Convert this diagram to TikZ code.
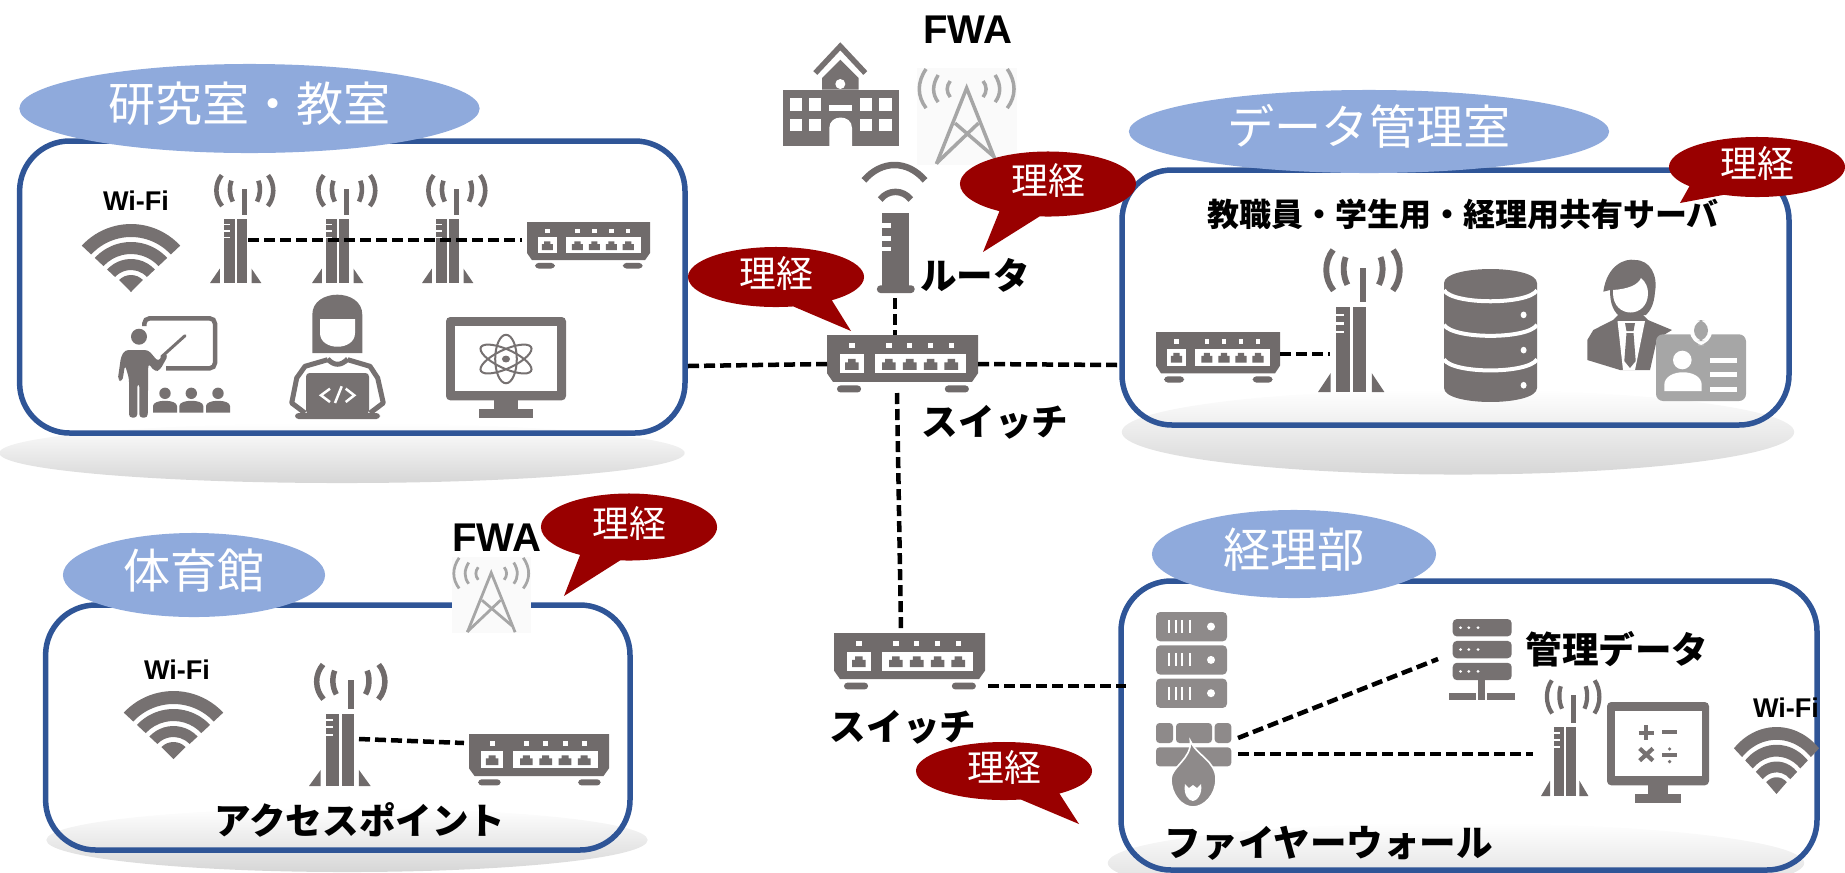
\documentclass[tikz,border=0pt]{standalone}
\usepackage{fontspec}
\setmainfont{Liberation Sans}
\newfontfamily\cjkfont{Noto Sans CJK JP}
\usetikzlibrary{shapes.geometric,shapes.callouts}
\definecolor{iconcol}{HTML}{767171}
\definecolor{rackcol}{HTML}{8E8A8A}
\definecolor{palecol}{HTML}{A6A6A6}
\definecolor{ovalcol}{HTML}{8FAADC}
\definecolor{boxcol}{HTML}{2F5597}
\definecolor{calloutcol}{HTML}{990000}
\tikzset{
	roombox/.style={draw=boxcol,line width=0.055cm,rounded corners=0.5cm},
	floorshade/.style={ellipse,inner sep=0,top color=white,bottom color=black!16},
	tagoval/.style={ellipse,fill=ovalcol,inner sep=0,text=white,text height=0.4cm,text depth=0.14cm,font=\cjkfont\fontsize{13.4}{15}\selectfont},
	keeper/.style={ellipse callout,fill=calloutcol,inner sep=0,callout pointer arc=28,minimum width=1.76cm,minimum height=0.62cm,text=white,text height=0.3cm,text depth=0.1cm,font=\cjkfont\fontsize{10.5}{12}\selectfont},
	netlink/.style={line width=0.045cm,dash pattern=on 0.11cm off 0.05cm},
	boldlabel/.style={font=\cjkfont\bfseries\fontsize{10.4}{12}\selectfont},
	latinbig/.style={font=\bfseries\fontsize{11.4}{13}\selectfont},
	latinsmall/.style={font=\bfseries\fontsize{7.7}{9}\selectfont},
}
\def\portsocket#1{\begin{scope}[shift={(#1,0)}]
	\fill (-4.5,60) -- (-4.5,47) -- (-2.5,47) -- (-2.5,41) -- (2.5,41) -- (2.5,47) -- (4.5,47) -- (4.5,60) -- cycle;
	\fill[white] (-1.8,14) rectangle (1.8,23);
\end{scope}}
\def\switchicon(#1,#2)(#3,#4){\begin{scope}[shift={(#1,#2)},xscale=#3/100,yscale=#4/100,color=iconcol!95!black]
	\fill (0,0) -- (100,0) -- (100,66) -- (96,81) -- (4,81) -- (0,66) -- cycle;
	\fill[rounded corners=1pt] (6.6,87) rectangle (22.6,99);
	\fill[rounded corners=1pt] (78,87) rectangle (94,99);
	\fill[white] (8.8,32.5) rectangle (24.3,66);
	\fill[white] (31.6,32.5) rectangle (92.3,66);
	\portsocket{16.5}
	\foreach \cx in {41,54.8,68.6,82.3} {\portsocket{\cx}}
\end{scope}}
\def\antennaicon(#1,#2)(#3,#4){\begin{scope}[shift={(#1,#2)},xscale=#3/100,yscale=#4/100,color=iconcol!95!black]
	\fill (49.8,14.8) rectangle (57.6,38);
	\fill (22,41.7) rectangle (38.5,100);
	\fill (42,41.7) rectangle (57.6,100);
	\fill (0,100) -- (15,100) -- (15,87) -- cycle;
	\fill (64,87) -- (64,100) -- (79,100) -- cycle;
	\fill[white] (22,46) rectangle (31,47.5);
	\fill[white] (22,52) rectangle (31,53.5);
	\fill[white] (22,58) rectangle (31,59.5);
	\draw[line width={#3*0.0007cm}] (18,2) .. controls (7,10) and (7,22) .. (18.6,30);
	\draw[line width={#3*0.0007cm}] (33,7) .. controls (29.5,12) and (29.5,20) .. (35,26);
	\draw[line width={#3*0.0007cm}] (89.4,2) .. controls (100,10) and (100,22) .. (89,30);
	\draw[line width={#3*0.0007cm}] (74.4,7) .. controls (78,12) and (78,20) .. (72.4,26);
\end{scope}}
\def\routericon(#1,#2)(#3,#4){\begin{scope}[shift={(#1,#2)},xscale=#3/100,yscale=#4/100,color=iconcol!95!black]
	\draw[line width=0.065cm] (3,12) .. controls (30,-4) and (70,-4) .. (97,12);
	\draw[line width=0.065cm] (28,27) .. controls (40,19) and (63,19) .. (75,27);
	\fill (31,37.7) rectangle (73,95);
	\fill[rounded corners=1pt] (23,100) -- (23,94) -- (81,94) -- (81,100) -- cycle;
	\fill[white] (31,45) rectangle (44,49.5);
	\fill[white] (31,55.5) rectangle (44,59);
	\fill[white] (31,64) rectangle (44,67.5);
\end{scope}}
\def\wifiicon(#1,#2)(#3,#4){\begin{scope}[shift={(#1,#2)},xscale=#3/97,yscale=#4/68,color=iconcol]
	\begin{scope}[shift={(48.5,68)}]
		\fill (223:68) arc (223:317:68) -- (317:55) arc (317:223:55) -- cycle;
		\fill (223:50) arc (223:317:50) -- (317:38) arc (317:223:38) -- cycle;
		\fill (223:33) arc (223:317:33) -- (317:22) arc (317:223:22) -- cycle;
		\fill (0,0) -- (225:17) arc (225:315:17) -- cycle;
	\end{scope}
\end{scope}}
\def\monitoricon(#1,#2)(#3,#4)#5{\begin{scope}[shift={(#1,#2)},xscale=#3/100,yscale=#4/100,color=iconcol]
	\fill[rounded corners=1.2pt] (0,0) rectangle (100,82.5);
	\fill[white] (7.5,8.6) rectangle (92.8,73.6);
	\fill (40,82) rectangle (60,91);
	\fill (27.5,91) rectangle (72.5,100);
	#5
\end{scope}}
\def\atomglyph{
	\foreach \ang in {90,30,-30} {\draw[line width=0.02cm,rotate around={\ang:(50,41.6)}] (50,41.6) ellipse (24 and 9);}
	\fill (50,41.6) circle (3.4);
}
\def\sumsglyph{
	\draw[line width=0.042cm] (31,30.4) -- (46,30.4) (38.6,23) -- (38.6,38);
	\draw[line width=0.042cm] (54,30) -- (69,30);
	\draw[line width=0.042cm] (32,46) -- (45,58) (45,46) -- (32,58);
	\draw[line width=0.042cm] (54,52.8) -- (69,52.8);
	\fill (61.4,46.5) circle (1.8) (61.4,59) circle (1.8);
}
\def\teachericon(#1,#2){\begin{scope}[shift={(#1,#2)},color=iconcol]
	\draw[line width=0.045cm,rounded corners=1.5pt] (27.3,10) -- (27.3,2.3) -- (98,2.3) -- (98,52.3) -- (49,52.3);
	\fill (22,20.7) circle (8);
	\fill[rounded corners=1pt] (8,34) -- (31.3,34) -- (41.3,45.7) -- (46.3,37.3) -- (51.3,39) -- (43,54) -- (38,55.7) -- (31.3,47.3) -- (30.7,101.7) -- (22.3,101.7) -- (22.3,67.3) -- (20.3,67.3) -- (20.3,101.7) -- (12,101.7) -- (12,62.3) -- (8,49) -- (5.3,65.7) -- (0.7,64) -- (4,40.7) -- cycle;
	\draw[line width=0.03cm,line cap=round] (44.7,40.7) -- (68,19.7);
	\foreach \cx in {48,74.3,101} {
		\fill (\cx,77.3) circle (5.7);
		\begin{scope}[shift={(\cx,0)}]
			\fill (-12,96.7) -- (-12,90) .. controls (-12,83) and (12,83) .. (12,90) -- (12,96.7) -- cycle;
		\end{scope}
	}
\end{scope}}
\def\codericon(#1,#2){\begin{scope}[shift={(#1,#2)},color=iconcol]
	\fill (23.3,60) -- (23.3,21.7) .. controls (23.3,-5) and (73.3,-5) .. (73.3,21.7) -- (73.3,60) -- cycle;
	\fill[white] (31,26) -- (66,26) -- (66,40) .. controls (66,58.3) and (31,58.3) .. (31,40) -- cycle;
	\draw[line width=0.05cm,line join=round] (38.7,66.7) -- (16,73.3) -- (7.7,85) -- (2.7,110) -- (16,120);
	\draw[line width=0.05cm,line join=round] (58.7,66.7) -- (81,73.3) -- (88.7,85) -- (94.3,110) -- (81,120);
	\draw[line width=0.05cm] (38.7,66) .. controls (45,73) and (52,73) .. (58.7,66);
	\fill[rounded corners=1pt] (17,80) rectangle (80,121);
	\fill[rounded corners=1pt] (6,120) rectangle (91,126);
	\draw[white,line width=0.025cm] (41,95.7) -- (32,102.3) -- (41,109);
	\draw[white,line width=0.025cm] (52.7,93.3) -- (46,110);
	\draw[white,line width=0.025cm] (56.7,95.7) -- (65.3,102.3) -- (56.7,109);
\end{scope}}
\def\dbicon(#1,#2)(#3,#4){\begin{scope}[shift={(#1,#2)},xscale=#3/100,yscale=#4/100,color=iconcol]
	\fill (0,10.6) .. controls (0,-3.5) and (100,-3.5) .. (100,10.6) -- (100,89.4) .. controls (100,103.5) and (0,103.5) .. (0,89.4) -- cycle;
	\draw[white,line width=0.04cm] (0,16) .. controls (10,27) and (90,27) .. (100,16);
	\draw[white,line width=0.04cm] (0,42) .. controls (10,53) and (90,53) .. (100,42);
	\draw[white,line width=0.04cm] (0,68) .. controls (10,79) and (90,79) .. (100,68);
	\foreach \cy in {34.5,61,87.4} {\fill[white] (85.6,\cy) ellipse (3.2 and 2.5);}
\end{scope}}
\def\staffcardicon(#1,#2){\begin{scope}[shift={(#1,#2)},color=iconcol]
	\fill (23.3,36.7) .. controls (27,10) and (45,3) .. (55,5) .. controls (70,5) and (78,20) .. (75,37) .. controls (74,50) and (70,56) .. (66,60) -- (38,60) .. controls (32,54) and (30,46) .. (30,35) -- cycle;
	\fill[white] (33,35) .. controls (48,34) and (58,30) .. (61,23) .. controls (66,27) and (68,33) .. (68,38) .. controls (68,64) and (33,64) .. (33,38) -- cycle;
	\fill (7.3,105) -- (7.3,85) -- (13.3,75) -- (33,65) -- (38,60) -- (63,60) -- (68,65) -- (92,75) -- (77,84) -- (70,115) -- (40,115) -- cycle;
	\fill[white] (37.5,66) -- (65,66) -- (55,115) -- (43,115) -- cycle;
	\fill (45,68) -- (55,68) -- (53.5,76) -- (46.5,76) -- cycle;
	\fill (46.5,78) -- (53.5,78) -- (55.7,106) -- (50,113) -- (44.3,106) -- cycle;
	\fill[palecol,rounded corners=2pt] (76,79.3) rectangle (166,146);
	\fill[white,rounded corners=4pt] (110,62) rectangle (132,90);
	\fill[palecol,rounded corners=3pt] (114,65) rectangle (128,86);
	\fill[white] (102.3,105) circle (9.3);
	\fill[white] (84.3,136) -- (84.3,130) .. controls (84.3,113) and (121.7,113) .. (121.7,130) -- (121.7,136) -- cycle;
	\fill[white] (130,103) rectangle (157.3,108);
	\fill[white] (130,117) rectangle (157.3,122);
	\fill[white] (130,131.5) rectangle (157.3,136.5);
\end{scope}}
\def\rackicon(#1,#2){\begin{scope}[shift={(#1,#2)},color=rackcol]
	\foreach \ty in {0,33.3,66.6} {
		\fill[rounded corners=1.2pt] (0,\ty) rectangle (71,\ty+29.3);
		\foreach \cx in {13,19.5,26,33.5} {\fill[white] (\cx-1,\ty+8) rectangle (\cx+1,\ty+21);}
		\fill[white] (55,\ty+14.6) circle (4);
	}
\end{scope}}
\def\firewallicon(#1,#2){\begin{scope}[shift={(#1,#2)},color=rackcol]
	\fill[rounded corners=1pt] (0,0) rectangle (17,20);
	\fill[rounded corners=1pt] (20,0) rectangle (56,20);
	\fill[rounded corners=1pt] (58.7,0) rectangle (75.3,20);
	\fill[rounded corners=1pt] (0,24.3) rectangle (75.3,43.3);
	\filldraw[draw=white,line width=0.016cm] (34.3,17.7) .. controls (40,32) and (60,38) .. (60,56) .. controls (60,72) and (48,84) .. (37,84) .. controls (26,84) and (15,72) .. (15,56) .. controls (15,44) and (36,36) .. cycle;
	\fill[white] (29,61) -- (33,65) -- (37,62) -- (41,65) -- (45,61) .. controls (47,72) and (40,78) .. (37,78) .. controls (33,78) and (27,72) .. cycle;
\end{scope}}
\def\smallservericon(#1,#2)(#3,#4){\begin{scope}[shift={(#1,#2)},xscale=#3/100,yscale=#4/100,color=iconcol]
	\foreach \ty in {0,27,54} {
		\fill[rounded corners=1.2pt] (5.6,\ty) rectangle (95,\ty+21.5);
		\foreach \cx in {17.5,30,44} {\fill[white] (\cx,\ty+10.7) ellipse (2.4 and 1.8);}
	}
	\fill (44,75) rectangle (55,100);
	\fill (0,91.7) rectangle (41,100);
	\fill (58,91.7) rectangle (100,100);
\end{scope}}
\def\schoolicon(#1,#2){\begin{scope}[shift={(#1,#2)},color=iconcol]
	\draw[line width=0.055cm] (32.3,30) -- (57.3,3.3) -- (82.3,30);
	\fill (39,46.7) -- (39,35) -- (57.3,16.7) -- (75.7,35) -- (75.7,46.7) -- cycle;
	\fill (0,46.7) rectangle (115.7,103.3);
	\fill[white] (57.3,41) circle (5);
	\foreach \cx in {6.7,25.7,76.7,96} {
		\fill[white] (\cx,55) rectangle (\cx+12.5,68.3);
		\fill[white] (\cx,75.7) rectangle (\cx+12.5,88.3);
	}
	\fill[white] (46.3,61.7) rectangle (69,68.3);
	\fill[white] (46.3,103.3) -- (46.3,85) .. controls (46.3,71) and (69,71) .. (69,85) -- (69,103.3) -- cycle;
\end{scope}}
\def\towericon(#1,#2)(#3,#4){\begin{scope}[shift={(#1,#2)},xscale=#3/99.3,yscale=#4/96.7,color=palecol]
	\fill[black!2] (0,0) rectangle (99.3,96.7);
	\draw[line width={#3*0.00035cm}] (19.3,95.7) -- (49.3,20) -- (79.3,95.7);
	\draw[line width={#3*0.00035cm}] (37.7,55) -- (76,88) (61,55) -- (19.3,95);
	\draw[line width={#3*0.00035cm}] (33,13) .. controls (29,18) and (29,24) .. (33,29);
	\draw[line width={#3*0.00035cm}] (21,7) .. controls (15,17) and (15,26) .. (21,34);
	\draw[line width={#3*0.00035cm}] (9,1) .. controls (0,14) and (0,28) .. (9,40);
	\draw[line width={#3*0.00035cm}] (65.6,13) .. controls (69.6,18) and (69.6,24) .. (65.6,29);
	\draw[line width={#3*0.00035cm}] (77.6,7) .. controls (83.6,17) and (83.6,26) .. (77.6,34);
	\draw[line width={#3*0.00035cm}] (89.6,1) .. controls (98.6,14) and (98.6,28) .. (89.6,40);
\end{scope}}
\begin{document}
\begin{tikzpicture}[x=0.01cm,y=-0.01cm]
	\useasboundingbox (0,0) rectangle (1845,872);
	\clip (0,0) rectangle (1845,872);
	%%%%% FLOORS %%%%%
	\node[floorshade,minimum width=6.85cm,minimum height=0.6cm] (floorlab) at (342,453) {};
	\node[floorshade,minimum width=6.72cm,minimum height=0.85cm] (floordata) at (1458,432) {};
	\node[floorshade,minimum width=6.01cm,minimum height=0.64cm] (floorgym) at (347,840) {};
	\node[floorshade,minimum width=6.96cm,minimum height=0.8cm] (flooraccount) at (1456,863) {};
	%%%%% ROOMS %%%%%
	\draw[roombox] (19.6,141) rectangle (685,433);
	\draw[roombox] (1122,170) rectangle (1789,425);
	\draw[roombox] (45.6,605) rectangle (630,850);
	\draw[roombox] (1121,581) rectangle (1817,870);
	\node[tagoval,minimum width=4.6cm,minimum height=0.89cm] (taglab) at (249.5,108.5) {研究室・教室};
	\node[tagoval,minimum width=4.8cm,minimum height=0.83cm] (tagdata) at (1369,131.5) {データ管理室};
	\node[tagoval,minimum width=2.62cm,minimum height=0.84cm] (taggym) at (194,575) {体育館};
	\node[tagoval,minimum width=2.84cm,minimum height=0.88cm] (tagaccount) at (1294,554) {経理部};
	%%%%% CENTRE %%%%%
	\schoolicon(783,43)
	\towericon(917,68)(100,97)
	\routericon(862,165)(65,128)
	\switchicon(827,335)(151,58)
	\switchicon(834,633)(151,57)
	%%%%% LAB %%%%%
	\wifiicon(83,224)(96,68)
	\antennaicon(210,173)(65,110)
	\antennaicon(312,173)(65,110)
	\antennaicon(422,173)(65,110)
	\switchicon(527,222)(123,47)
	\teachericon(117,316)
	\codericon(289,293)
	\monitoricon(446,317)(120,101){\atomglyph}
	%%%%% DATA ROOM %%%%%
	\switchicon(1156,332)(124,51)
	\antennaicon(1318,247)(84,145)
	\dbicon(1444,269)(93,133)
	\staffcardicon(1580,255)
	%%%%% GYM %%%%%
	\towericon(452,557)(79,76)
	\wifiicon(125,691)(97,68)
	\antennaicon(309,662)(78,124)
	\switchicon(469,734)(140,52)
	%%%%% ACCOUNTING %%%%%
	\rackicon(1156,612)
	\firewallicon(1156,723)
	\smallservericon(1449,619)(66,81)
	\antennaicon(1541,678)(60,118)
	\monitoricon(1607,702)(102,101){\sumsglyph}
	\wifiicon(1735,727)(83,67)
	%%%%% LINKS %%%%%
	\coordinate (routerfoot) at (895,298);
	\coordinate (swAtop) at (895,335);
	\coordinate (swAleft) at (827,364);
	\coordinate (swAright) at (978,364);
	\coordinate (swAbottom) at (897,393);
	\coordinate (laberight) at (688,366);
	\coordinate (dataleft) at (1118,365);
	\coordinate (swBtop) at (901,630);
	\coordinate (swBright) at (988,686);
	\coordinate (accountleft) at (1126,686);
	\coordinate (labant) at (248,240);
	\coordinate (labsw) at (522,240);
	\coordinate (datasw) at (1280,354);
	\coordinate (dataant) at (1330,354);
	\coordinate (gymant) at (359,739);
	\coordinate (gymsw) at (464,743);
	\coordinate (wallup) at (1238,738);
	\coordinate (wallside) at (1238,754);
	\coordinate (mgmtserver) at (1438,659);
	\coordinate (accountant) at (1533,754);
	\draw[netlink] (routerfoot) -- (swAtop);
	\draw[netlink] (laberight) -- (swAleft);
	\draw[netlink] (swAright) -- (dataleft);
	\draw[netlink] (swAbottom) -- (swBtop);
	\draw[netlink] (swBright) -- (accountleft);
	\draw[netlink] (labant) -- (labsw);
	\draw[netlink] (datasw) -- (dataant);
	\draw[netlink] (gymant) -- (gymsw);
	\draw[netlink] (wallup) -- (mgmtserver);
	\draw[netlink] (wallside) -- (accountant);
	%%%%% CALLOUTS %%%%%
	\coordinate (tipleft) at (851,331);
	\coordinate (tiptop) at (983,252);
	\coordinate (tipdata) at (1680,203);
	\coordinate (tipgym) at (564,596);
	\coordinate (tipbottom) at (1079,824);
	\node[keeper,minimum height=0.6cm,callout absolute pointer=(tipleft)] (keepleft) at (776,277) {理経};
	\node[keeper,minimum height=0.65cm,callout absolute pointer=(tiptop)] (keeptop) at (1048,184) {理経};
	\node[keeper,minimum height=0.6cm,callout absolute pointer=(tipdata)] (keepdata) at (1757,167) {理経};
	\node[keeper,minimum height=0.67cm,callout absolute pointer=(tipgym)] (keepgym) at (629,527) {理経};
	\node[keeper,minimum height=0.58cm,callout absolute pointer=(tipbottom)] (keepbottom) at (1004,771) {理経};
	%%%%% LABELS %%%%%
	\node[latinbig] (fwatop) at (968,30) {FWA};
	\node[latinbig] (fwagym) at (497,538) {FWA};
	\node[latinsmall] (wifilab) at (136,201) {Wi-Fi};
	\node[latinsmall] (wifigym) at (177,670) {Wi-Fi};
	\node[latinsmall] (wifiaccount) at (1786,708) {Wi-Fi};
	\node[boldlabel] (routerlabel) at (975,275) {ルータ};
	\node[boldlabel] (swAlabel) at (995,422) {スイッチ};
	\node[boldlabel] (swBlabel) at (903,727) {スイッチ};
	\node[boldlabel,font=\cjkfont\bfseries\fontsize{9.1}{11}\selectfont] (sharedlabel) at (1463,214) {教職員・学生用・経理用共有サーバ};
	\node[boldlabel] (aplabel) at (360,820) {アクセスポイント};
	\node[boldlabel] (mgmtlabel) at (1617,649) {管理データ};
	\node[boldlabel] (walllabel) at (1329,843) {ファイヤーウォール};
\end{tikzpicture}
\end{document}
